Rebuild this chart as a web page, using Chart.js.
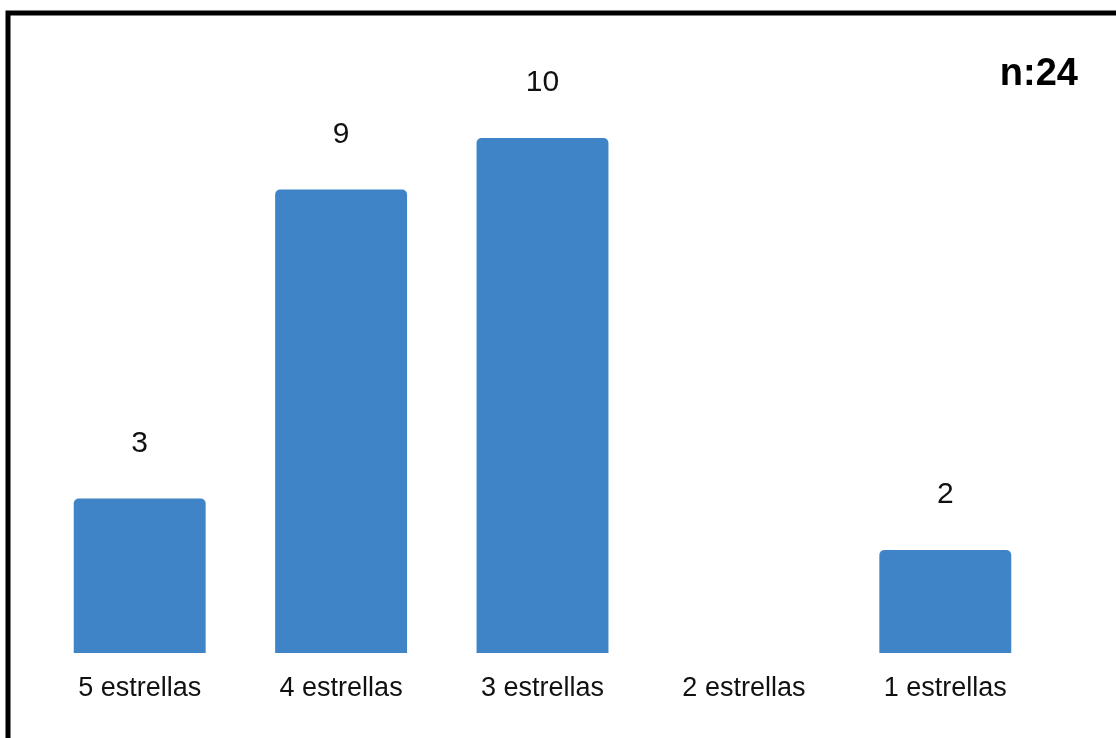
<!DOCTYPE html>
<html>
<head>
<meta charset="utf-8">
<script src="https://cdn.jsdelivr.net/npm/chart.js"></script>
<style>
  html, body { margin: 0; padding: 0; background: #fff; }
  #wrap { width: 1116px; height: 738px; position: relative; }
</style>
</head>
<body>
<div id="wrap"><canvas id="chart" width="1116" height="738"></canvas></div>
<script>
const categories = ['5 estrellas', '4 estrellas', '3 estrellas', '2 estrellas', '1 estrellas'];
const counts = [3, 9, 10, 0, 2];
const totalLabel = 'n:24';

const barColor = 'rgb(63, 132, 198)';
const fontFamily = '"Liberation Sans", Arial, sans-serif';

// frame, value labels and the n: text
const decor = {
    id: 'decor',
    beforeDraw(chart) {
        const ctx = chart.ctx;
        ctx.save();
        ctx.fillStyle = '#fff';
        ctx.fillRect(0, 0, chart.width, chart.height);
        ctx.strokeStyle = '#000';
        ctx.lineWidth = 5;
        ctx.strokeRect(8, 13, chart.width + 20, chart.height + 20);
        ctx.restore();
    },
    afterDatasetsDraw(chart) {
        const ctx = chart.ctx;
        const meta = chart.getDatasetMeta(0);
        ctx.save();
        ctx.fillStyle = '#111';
        ctx.font = '30px ' + fontFamily;
        ctx.textAlign = 'center';
        ctx.textBaseline = 'middle';
        meta.data.forEach((bar, i) => {
            const v = counts[i];
            if (!v) return;
            ctx.fillText(String(v), bar.x, bar.y - 55);
        });
        ctx.font = 'bold 38px ' + fontFamily;
        ctx.textAlign = 'right';
        ctx.fillStyle = '#000';
        ctx.fillText(totalLabel, 1078, 75);
        ctx.restore();
    }
};

new Chart(document.getElementById('chart'), {
    type: 'bar',
    data: {
        labels: categories,
        datasets: [{
            data: counts,
            backgroundColor: barColor,
            borderRadius: { topLeft: 5, topRight: 5, bottomLeft: 0, bottomRight: 0 },
            borderSkipped: 'bottom',
            barPercentage: 0.655,
            categoryPercentage: 1
        }]
    },
    options: {
        responsive: false,
        animation: false,
        layout: { padding: { left: 39, right: 70, top: 35, bottom: 0 } },
        plugins: {
            legend: { display: false },
            tooltip: { enabled: false }
        },
        scales: {
            x: {
                grid: { display: false },
                border: { display: false },
                ticks: {
                    color: '#111',
                    font: { family: fontFamily, size: 27 },
                    padding: 11,
                    maxRotation: 0
                },
                afterFit(scale) { scale.height = 85; }
            },
            y: {
                display: false,
                min: 0,
                max: 12
            }
        }
    },
    plugins: [decor]
});
</script>
</body>
</html>
